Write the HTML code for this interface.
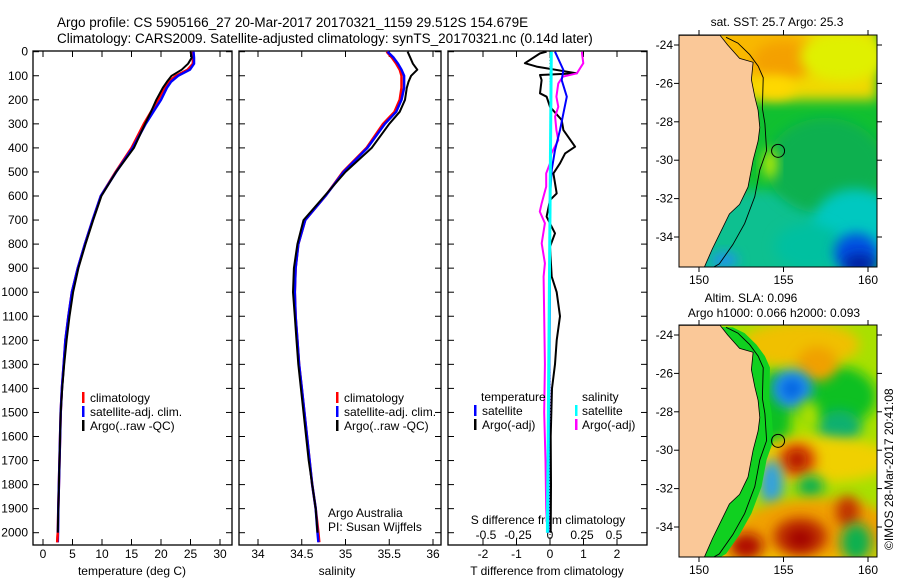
<!DOCTYPE html>
<html><head><meta charset="utf-8"><style>
html,body{margin:0;padding:0;background:#fff;}
svg{display:block;font-family:"Liberation Sans",sans-serif;}
text{font-size:12px;fill:#000;}
</style></head><body>
<svg id="fig" width="900" height="580" viewBox="0 0 900 580">
<defs>
 <filter id="blur4" x="-50%" y="-50%" width="200%" height="200%"><feGaussianBlur stdDeviation="6"/></filter>
 <clipPath id="clipTop"><rect x="679" y="35" width="198" height="232"/></clipPath>
 <clipPath id="clipBot"><rect x="679" y="325" width="198" height="232"/></clipPath>
</defs>
<text x="57" y="27" style="font-size:13.5px">Argo profile: CS 5905166_27 20-Mar-2017 20170321_1159 29.512S 154.679E</text>
<text x="57" y="43" style="font-size:13.5px">Climatology: CARS2009. Satellite-adjusted climatology: synTS_20170321.nc (0.14d later)</text>
<g id="panels"></g>
<g id="maps"></g>
<text transform="translate(893,550) rotate(-90)">©IMOS 28-Mar-2017 20:41:08</text>
</svg>
<script>
// ---- data ----
const depths = [0,25,50,75,100,125,150,200,250,300,400,500,600,700,800,900,1000,1100,1200,1300,1400,1500,1600,1700,1800,1900,2000,2040];
const climT = [25.3,25.4,25.4,24.5,22.5,21.3,20.6,19.5,18.3,17.1,15.0,12.3,9.8,8.4,7.1,5.9,4.9,4.3,3.8,3.5,3.2,3.0,2.9,2.8,2.7,2.6,2.5,2.4];
const satT  = [25.5,25.6,25.6,24.9,22.9,21.7,21.0,20.0,18.7,17.4,15.2,12.4,9.8,8.4,7.1,5.9,4.9,4.3,3.8,3.5,3.2,3.0,2.9,2.8,2.7,2.6,2.55,2.5];
const argoDepths = [0,25,50,75,100,125,150,200,250,300,400,500,600,700,800,900,1000,1100,1200,1300,1400,1500,1600,1700,1800,1900,2000];
const argoT = [25.0,25.2,24.6,23.5,21.8,21.0,20.3,19.2,18.3,17.3,15.4,12.4,9.9,8.5,7.2,6.0,5.1,4.5,4.0,3.6,3.25,3.0,2.9,2.8,2.7,2.6,2.5];
const climS = [35.47,35.53,35.58,35.62,35.64,35.64,35.64,35.62,35.56,35.43,35.24,34.97,34.77,34.54,34.46,34.43,34.42,34.43,34.45,34.47,34.50,34.53,34.56,34.59,34.62,34.66,34.69,34.70];
const satS  = [35.48,35.55,35.60,35.64,35.67,35.67,35.67,35.64,35.58,35.45,35.25,34.98,34.77,34.54,34.46,34.43,34.42,34.43,34.45,34.47,34.50,34.53,34.56,34.59,34.62,34.66,34.68,34.69];
const argoS = [35.71,35.74,35.77,35.82,35.75,35.72,35.70,35.68,35.62,35.50,35.30,35.00,34.76,34.52,34.45,34.41,34.40,34.42,34.44,34.46,34.49,34.52,34.55,34.58,34.62,34.66,34.68];
const dTDepths = [0,7,48,62,90,97,118,173,187,229,284,326,395,423,464,506,589,617,686,755,811,935,1000,1100,1200,1300,1400,1600,1800,2000];
const dTArgo  = [-0.1,-0.3,-0.75,-0.4,0.8,-0.3,-0.25,-0.3,-0.1,0,0.35,0.4,0.75,0.45,0.3,0.1,0.2,0,-0.1,0.15,0,0.05,0.2,0.3,0.2,0.15,0.06,0.02,0.03,0.02];
const dSDepths = [0,7,48,90,104,132,187,229,270,326,368,423,464,506,561,630,665,713,797,880,935,1100,1300,1500,1700,1900,2000];
const dSArgo  = [0.25,0.25,0.26,0.21,0.10,0.065,0.05,0.065,0.04,0.05,0.065,0.01,0,-0.03,-0.03,-0.065,-0.08,-0.04,-0.065,-0.04,-0.05,-0.045,-0.04,-0.045,-0.035,-0.03,-0.02];
const dSatDepths = [0,76,118,187,256,326,409,492,603,1000,2000];
const dTSat = [0.15,0.4,0.35,0.5,0.4,0.3,0.15,0.05,0,0,-0.05];
const dSSatDepths = [0,2000];
const dSSat = [0.01,-0.02];
const depthTicks = [0,100,200,300,400,500,600,700,800,900,1000,1100,1200,1300,1400,1500,1600,1700,1800,1900,2000];
const tTicks = [0,5,10,15,20,25,30];
const sTicks = [34,34.5,35,35.5,36];
const sTickLabels = ['34','34.5','35','35.5','36'];
const dTTicks = [-2,-1,0,1,2];
const dSTicks = [-0.5,-0.25,0,0.25,0.5];
const dSTickLabels = ['-0.5','-0.25','0','0.25','0.5'];
const latTicks = [-24,-26,-28,-30,-32,-34];
const lonTicks = [150,155,160];

// ---- scales ----
const yD = d => 51.7 + d*0.2405;
const xT = t => 43 + t*5.9;
const xS = s => 258 + (s-34)*87.5;
const xdT = t => 550 + t*33.5;
const xdS = s => 550 + s*128;
const lonX = lon => 699 + (lon-150)*16.9;
const latY = (lat, off) => off + 45 + (-24-lat)*19.2;

const NS = 'http://www.w3.org/2000/svg';
function mk(tag, attrs, parent){ const e=document.createElementNS(NS,tag); for(const k in attrs) e.setAttribute(k,attrs[k]); parent.appendChild(e); return e; }
const P = document.getElementById('panels');
const M = document.getElementById('maps');

function line(xs, ds, fx, color, w, name){
  const pts = xs.map((v,i)=>fx(v).toFixed(1)+','+yD(ds[i]).toFixed(1)).join(' ');
  const e = mk('polyline',{points:pts,fill:'none',stroke:color,'stroke-width':w,'stroke-linejoin':'round'},P);
  
  
}
function frame(x0,x1,name){
  const r = mk('rect',{x:x0,y:51,width:x1-x0,height:494,fill:'none',stroke:'#000','stroke-width':1.3},P);
  
  
  depthTicks.forEach(d=>{
    mk('line',{x1:x0,x2:x0+6,y1:yD(d),y2:yD(d),stroke:'#000'},P);
    mk('line',{x1:x1-6,x2:x1,y1:yD(d),y2:yD(d),stroke:'#000'},P);
  });
}
function xticks(vals, fx, labels, y, name){
  vals.forEach((v,i)=>{
    mk('line',{x1:fx(v),x2:fx(v),y1:51,y2:57,stroke:'#000'},P);
    mk('line',{x1:fx(v),x2:fx(v),y1:539,y2:545,stroke:'#000'},P);
    const t = mk('text',{x:fx(v),y:y,'text-anchor':'middle'},P);
    t.textContent = labels[i];
    
    
  });
}
function txt(x,y,s,name,anchor){
  const t = mk('text',{x:x,y:y,'text-anchor':anchor||'start'},P);
  t.textContent = s;
  
  
  return t;
}
function bar(x,y,c,name){
  const r = mk('rect',{x:x,y:y-10,width:2.5,height:11,fill:c},P);
  
  
}

// panel 1 temperature
frame(33,232,'temperature-panel');
depthTicks.forEach(d=>{ txt(28,yD(d)+4,String(d),'depth-tick-label','end'); });
xticks(tTicks, xT, tTicks.map(String), 558, 'temperature-tick-label');
txt(132,575,'temperature (deg C)','temperature-axis-title','middle');
line(climT, depths, xT, '#ff0000', 2.5, 'temperature-climatology-line');
line(satT, depths, xT, '#0000ff', 2.5, 'temperature-satellite-line');
line(argoT, argoDepths, xT, '#000000', 2, 'temperature-argo-line');
line(climT.slice(-2), depths.slice(-2), xT, '#ff0000', 2.5, 'temperature-climatology-bottom');
bar(82,402,'#ff0000','legend-climatology-swatch'); txt(90,402,'climatology','legend-climatology');
bar(82,416,'#0000ff','legend-satellite-swatch'); txt(90,416,'satellite-adj. clim.','legend-satellite');
bar(82,430,'#000','legend-argo-swatch'); txt(90,430,'Argo(..raw -QC)','legend-argo');

// panel 2 salinity
frame(239,441,'salinity-panel');
xticks(sTicks, xS, sTickLabels, 558, 'salinity-tick-label');
txt(337,575,'salinity','salinity-axis-title','middle');
line(climS, depths, xS, '#ff0000', 2.5, 'salinity-climatology-line');
line(satS, depths, xS, '#0000ff', 2.5, 'salinity-satellite-line');
line(argoS, argoDepths, xS, '#000000', 2, 'salinity-argo-line');
bar(336,402,'#ff0000','legend2-climatology-swatch'); txt(344,402,'climatology','legend2-climatology');
bar(336,416,'#0000ff','legend2-satellite-swatch'); txt(344,416,'satellite-adj. clim.','legend2-satellite');
bar(336,430,'#000','legend2-argo-swatch'); txt(344,430,'Argo(..raw -QC)','legend2-argo');
txt(328,517,'Argo Australia','credit-line-1'); txt(328,531,'PI: Susan Wijffels','credit-line-2');

// panel 3 differences
frame(448,647,'difference-panel');
xticks(dTTicks, xdT, dTTicks.map(String), 558, 'temp-diff-tick-label');
dSTicks.forEach((v,i)=>txt(xdS(v),539,dSTickLabels[i],'sal-diff-tick-label','middle'));
txt(548,524,'S difference from climatology','sal-diff-axis-title','middle');
txt(547,575,'T difference from climatology','temp-diff-axis-title','middle');
mk('line',{x1:550,x2:550,y1:51,y2:545,stroke:'#000','stroke-dasharray':'1,2'},P);
line(dTArgo, dTDepths, xdT, '#000000', 2, 'temp-diff-argo-line');
line(dSArgo, dSDepths, xdS, '#ff00ff', 2, 'sal-diff-argo-line');
line(dTSat, dSatDepths, xdT, '#0000ff', 2, 'temp-diff-satellite-line');
line(dSSat, dSSatDepths, xdS, '#00ffff', 3, 'sal-diff-satellite-line');
txt(481,401,'temperature','legend3-temperature-header');
txt(582,401,'salinity','legend3-salinity-header');
bar(474,415,'#0000ff','legend3-tsat-swatch'); txt(482,415,'satellite','legend3-tsat');
bar(474,429,'#000','legend3-targo-swatch'); txt(482,429,'Argo(-adj)','legend3-targo');
bar(575,415,'#00ffff','legend3-ssat-swatch'); txt(582,415,'satellite','legend3-ssat');
bar(575,429,'#ff00ff','legend3-sargo-swatch'); txt(582,429,'Argo(-adj)','legend3-sargo');

// ---- maps ----
const coastLon = [148.5,151.25,151.7,152.4,153.2,153.1,153.3,153.5,153.6,153.5,153.2,152.9,152.4,151.8,151.3,150.8,150.3,148.5];
const coastLat = [-23.5,-23.5,-24.0,-24.7,-24.9,-25.8,-26.7,-27.4,-28.3,-29.0,-30.0,-31.4,-32.3,-32.8,-33.7,-34.6,-35.6,-35.6];
const isoLon = [151.6,152.3,153.0,153.5,153.8,153.75,153.9,154.0,153.6,153.3,152.7,152.0,151.2,150.8];
const isoLat = [-23.6,-23.9,-24.5,-25.1,-25.7,-27.3,-28.1,-29.5,-30.5,-31.9,-33.3,-34.4,-35.4,-35.6];
const sstBlobs = [[153.5,-24.3,3.5,1.4,'#f8b800'],[155.0,-24.8,1.8,1.0,'#f4a000'],[158.5,-24.6,2.5,1.3,'#e0f000'],[154.5,-26.2,1.2,0.6,'#ffd800'],[157.5,-30.3,3.5,2.5,'#10b050'],[159.2,-33.5,2.5,2.0,'#00c8c0'],[156.5,-34.5,2.0,1.2,'#00c0a0'],[159.3,-34.8,1.3,1.0,'#0050e0'],[159.5,-35.4,1.0,0.5,'#0020a0'],[154.2,-30.2,0.4,0.8,'#c0f000'],[151.5,-35.2,0.8,0.4,'#2090f0']];
const slaBlobs = [[158.0,-27.2,2.5,1.6,'#10c020'],[154.5,-28.0,1.0,2.2,'#10c020'],[156.0,-24.5,3.5,1.2,'#f0c000'],[157.0,-25.5,1.2,0.9,'#f0a000'],[155.5,-26.8,1.2,1.0,'#2090f0'],[155.5,-26.8,0.6,0.5,'#0060e0'],[158.3,-28.8,1.3,0.9,'#10b070'],[156.5,-28.2,0.6,0.8,'#b0e000'],[157.0,-30.5,4.5,1.2,'#f0d000'],[155.8,-30.5,1.2,0.9,'#e06000'],[155.8,-30.5,0.6,0.5,'#b01000'],[154.3,-31.7,0.7,1.2,'#30a0e0'],[156.6,-31.9,0.8,0.6,'#10b050'],[157.0,-34.0,4.5,1.5,'#f0a000'],[156.0,-34.5,1.6,1.0,'#c03000'],[156.0,-34.6,0.8,0.5,'#a00000'],[158.8,-33.2,0.7,0.8,'#c03000'],[152.8,-35.0,1.0,0.7,'#b01000'],[159.3,-34.8,0.9,1.0,'#10b050']];

function drawMap(off, clip, base, blobs, coastStrip, name, titles){
  const g = mk('g',{'clip-path':'url(#'+clip+')'},M);
  
  
  mk('rect',{x:679,y:off+35,width:198,height:232,fill:base},g);
  if(off===0){
    mk('rect',{x:679,y:25,width:198,height:75,fill:'#f0d800',filter:'url(#blur4)'},g);
    mk('rect',{x:679,y:190,width:198,height:90,fill:'#08c090',filter:'url(#blur4)'},g);
  } else {
    mk('rect',{x:679,y:off+230,width:198,height:50,fill:'#f0c000',filter:'url(#blur4)'},g);
  }
  blobs.forEach(b=>{
    const e = mk('ellipse',{cx:lonX(b[0]),cy:latY(b[1],off),rx:b[2]*16.9,ry:b[3]*19.2,fill:b[4],filter:'url(#blur4)'},g);
    
    
  });
  if(coastStrip){
    const stripPts = isoLon.map((v,i)=>lonX(v+0.4)+','+latY(isoLat[i],off)).join(' ') + ' ' + lonX(148.5)+','+latY(-35.6,off)+' '+lonX(148.5)+','+latY(-23.5,off);
    mk('polygon',{points:stripPts,fill:coastStrip},g);
  }
  const land = coastLon.map((v,i)=>lonX(v).toFixed(1)+','+latY(coastLat[i],off).toFixed(1)).join(' ');
  const l = mk('polygon',{points:land,fill:'#fac898',stroke:'#000','stroke-width':0.8},g);
  
  
  const iso = mk('polyline',{points:isoLon.map((v,i)=>lonX(v)+','+latY(isoLat[i],off)).join(' '),fill:'none',stroke:'#000','stroke-width':0.9},g);
  
  
  const c = mk('circle',{cx:lonX(154.679),cy:latY(-29.512,off),r:6.5,fill:'none',stroke:'#000','stroke-width':1},M);
  
  
  const fr = mk('rect',{x:679,y:off+35,width:198,height:232,fill:'none',stroke:'#000','stroke-width':1},M);
  
  
  latTicks.forEach(la=>{
    const y = latY(la,off);
    mk('line',{x1:674,x2:679,y1:y,y2:y,stroke:'#000'},M);
    mk('line',{x1:877,x2:882,y1:y,y2:y,stroke:'#000'},M);
    const t = mk('text',{x:673,y:y+4,'text-anchor':'end'},M);
    t.textContent = String(la);
    
    
  });
  lonTicks.forEach(lo=>{
    const x = lonX(lo);
    mk('line',{x1:x,x2:x,y1:off+30,y2:off+35,stroke:'#000'},M);
    mk('line',{x1:x,x2:x,y1:off+267,y2:off+272,stroke:'#000'},M);
    const t = mk('text',{x:x,y:off+284,'text-anchor':'middle'},M);
    t.textContent = String(lo);
    
    
  });
  titles.forEach(tt=>{
    const t = mk('text',{x:tt[0],y:tt[1],'text-anchor':'middle'},M);
    t.textContent = tt[2];
    
    
  });
}
drawMap(0,'clipTop','#10c030',sstBlobs,null,'sst-map',[[777,26,'sat. SST: 25.7 Argo: 25.3','sst-map-title']]);
drawMap(290,'clipBot','#a8e000',slaBlobs,'#10d020','sla-map',[[751,302,'Altim. SLA: 0.096','sla-map-title'],[774,317,'Argo h1000: 0.066 h2000: 0.093','sla-map-subtitle']]);
</script>
</body></html>
